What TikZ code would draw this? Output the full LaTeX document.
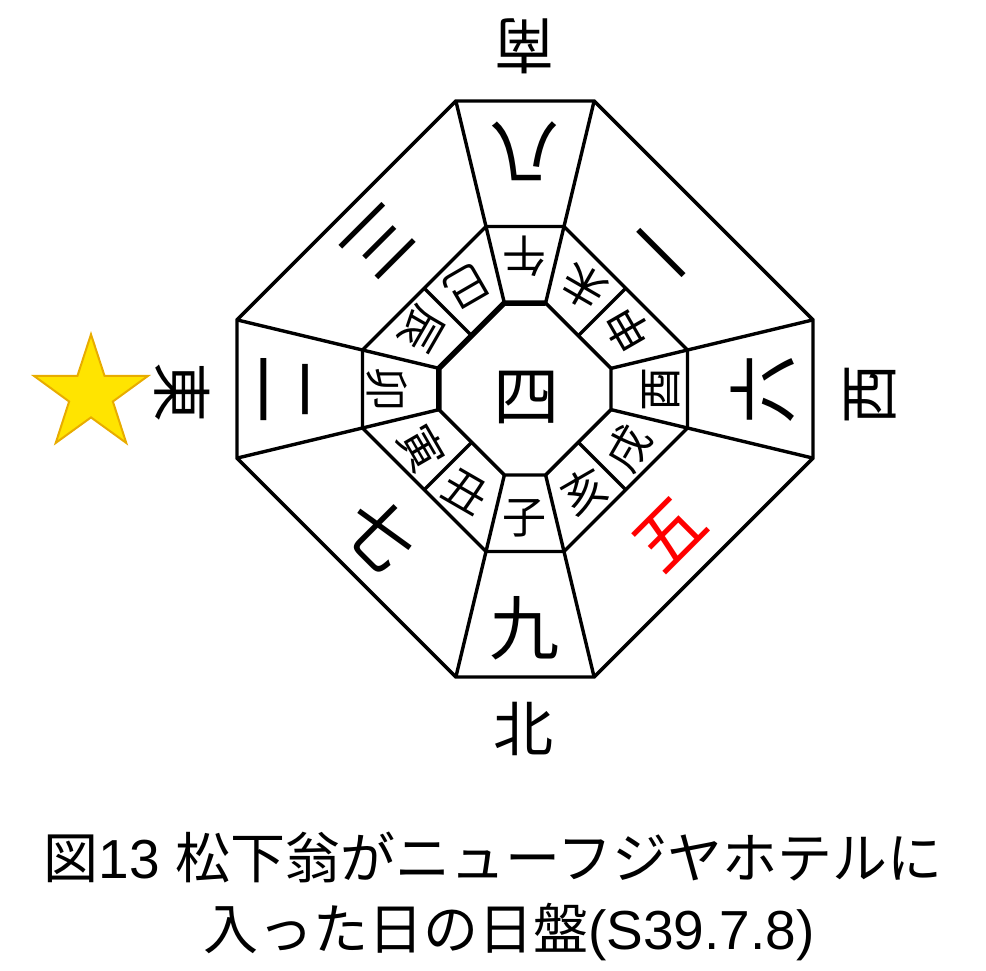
\documentclass[tikz,border=0pt]{standalone}
\usepackage{fontspec}
\setmainfont{Liberation Sans}
\newfontfamily\jp{Noto Sans CJK JP}
\usetikzlibrary{calc}
\definecolor{starfill}{RGB}{255,228,0}
\definecolor{starline}{RGB}{232,172,0}
\begin{document}
\begin{tikzpicture}[x=1pt,y=1pt,line join=miter,
  ln/.style={line width=3.4pt},
  thk/.style={line width=5.5pt},
  num/.style={font=\jp\fontsize{70}{70}\selectfont,inner sep=0pt},
  cen/.style={font=\jp\fontsize{66}{66}\selectfont,inner sep=0pt},
  zod/.style={font=\jp\fontsize{44}{44}\selectfont,inner sep=0pt},
  dirl/.style={font=\jp\fontsize{60}{60}\selectfont,inner sep=0pt},
  ttl/.style={font=\fontsize{55}{66}\selectfont,inner sep=0pt,anchor=base}]
\useasboundingbox (-525,-581) rectangle (461,389);
\def\kk{0.24}
% octagon vertices: i = inner, m = middle, o = outer
\foreach \n/\r in {i/86,m/162.5,o/288}{
  \coordinate (\n1) at ({\kk*\r},\r);
  \coordinate (\n2) at (\r,{\kk*\r});
  \coordinate (\n3) at (\r,{-\kk*\r});
  \coordinate (\n4) at ({\kk*\r},-\r);
  \coordinate (\n5) at ({-\kk*\r},-\r);
  \coordinate (\n6) at (-\r,{-\kk*\r});
  \coordinate (\n7) at (-\r,{\kk*\r});
  \coordinate (\n8) at ({-\kk*\r},\r);
}
\foreach \n in {i,m,o}{
  \draw[ln] (\n1)--(\n2)--(\n3)--(\n4)--(\n5)--(\n6)--(\n7)--(\n8)--cycle;
}
% radial dividers through vertices
\foreach \j in {1,...,8}{\draw[ln] (i\j)--(o\j);}
% 45 degree dividers in the zodiac ring
\foreach \a/\b in {1/2,3/4,5/6,7/8}{
  \draw[ln] ($(i\a)!.5!(i\b)$)--($(m\a)!.5!(m\b)$);
}
% thick inner edges
\draw[thk] (i1)--(i8)--(i7)--(i6);
% outer numbers
\node[num,rotate=180] (n8) at (90:238) {八};
\node[num,rotate=135] (n1) at (45:205) {一};
\node[num,rotate=90] (n6) at (0:238) {六};
\node[num,rotate=45,text=red] (n5) at (-45:205) {五};
\node[num] (n9) at (-90:239) {九};
\node[num,rotate=-45] (n7) at (-135:205) {七};
\node[num,rotate=-90] (n2) at (180:241) {二};
\node[num,rotate=-135] (n3) at (135:207) {三};
\node[cen] (n4) at (2,-8) {四};
% zodiac
\foreach \a/\t/\r/\nm in {90/午/133/wu,60/未/118/wei,30/申/119/shen,0/酉/136/you,
   -30/戌/119/xu,-60/亥/118/hai,-90/子/129/zi,-120/丑/118/chou,
   -150/寅/119/yin,180/卯/138/mao,150/辰/119/chen,120/巳/118/si}{
  \node[zod,rotate=\a+90] (\nm) at (\a:\r) {\t};
}
% directions
\node[dirl,rotate=180] (south) at (0,343) {南};
\node[dirl,rotate=90] (west) at (346,-5) {西};
\node[dirl] (north) at (-1,-340) {北};
\node[dirl,rotate=-90] (east) at (-343,-3) {東};
% star
\draw[fill=starfill,draw=starline,line width=2pt,shift={(-434,-5.4)}]
  (90:60)--(126:23)--(162:60)--(198:23)--(234:60)--(270:23)--(306:60)--(342:23)--(18:60)--(54:23)--cycle;
% title
\node[ttl] (t1) at (-32,-489) {{\jp 図}13 {\jp 松下翁がニューフジヤホテルに}};
\node[ttl] (t2) at (-16,-560) {{\jp 入った日の日盤}(S39.7.8)};
\end{tikzpicture}
\end{document}
